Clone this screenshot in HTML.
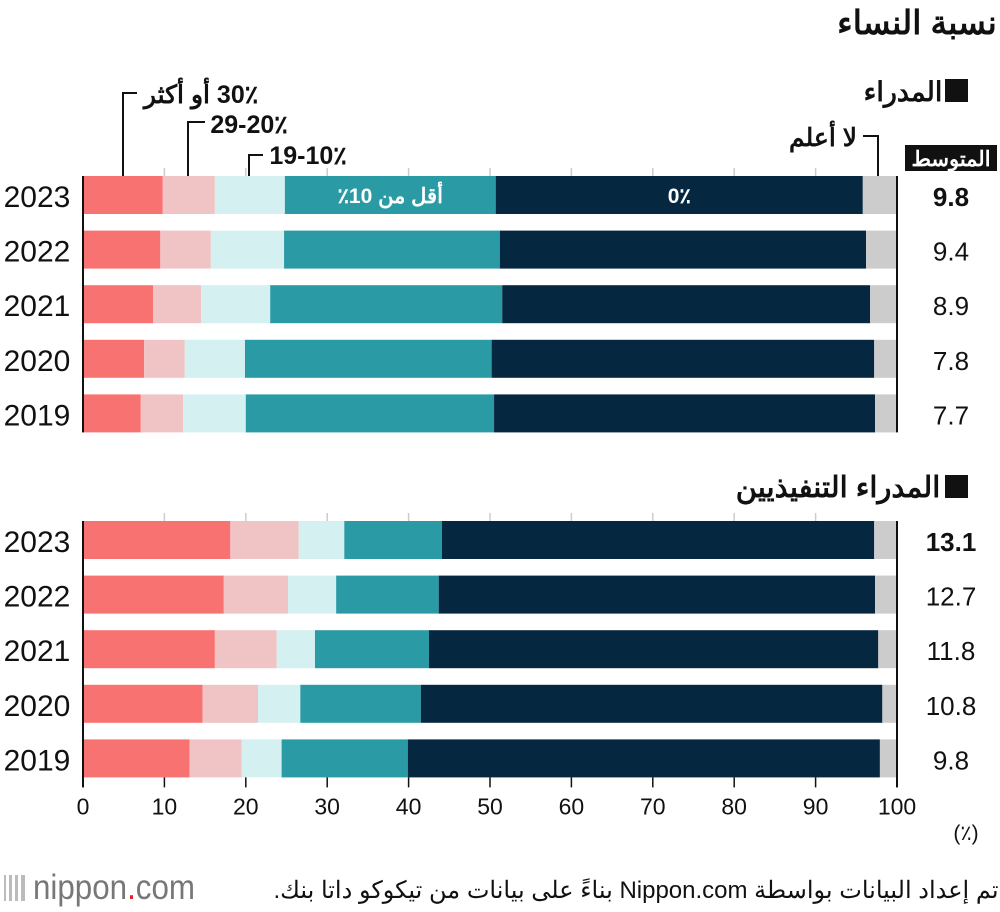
<!DOCTYPE html>
<html><head><meta charset="utf-8">
<style>
html,body{margin:0;padding:0;background:#fff;}
svg{display:block;font-family:"Liberation Sans","Noto Sans CJK SC",sans-serif;}
</style></head>
<body>
<svg id="chart" width="1000" height="912" viewBox="0 0 1000 912" xmlns="http://www.w3.org/2000/svg">
<text x="917" y="34" text-anchor="middle" direction="rtl" font-size="33" font-weight="bold" fill="#111">نسبة النساء</text>
<rect x="945" y="79" width="23" height="23" fill="#111"/>
<text x="903" y="101" text-anchor="middle" direction="rtl" font-size="27" font-weight="bold" fill="#111">المدراء</text>
<rect x="945" y="475" width="23" height="23" fill="#111"/>
<text x="838" y="497" text-anchor="middle" direction="rtl" font-size="29" font-weight="bold" fill="#111">المدراء التنفيذيين</text>

<g fill="none" stroke="#111" stroke-width="2">
<polyline points="123,176 123,93 137,93"/>
<polyline points="188,176 188,122 205,122"/>
<polyline points="249,176 249,155 263,155"/>
<polyline points="878,176 878,136 863,136"/>
</g>
<text x="201" y="103" text-anchor="middle" direction="rtl" font-size="25" font-weight="bold" fill="#111">30٪ أو أكثر</text>
<text x="249" y="133" text-anchor="middle" direction="rtl" font-size="25" font-weight="bold" fill="#111">29-20٪</text>
<text x="308" y="164" text-anchor="middle" direction="rtl" font-size="25" font-weight="bold" fill="#111">19-10٪</text>
<text x="823" y="146" text-anchor="middle" direction="rtl" font-size="25" font-weight="bold" fill="#111">لا أعلم</text>
<rect x="905" y="145" width="92" height="26" fill="#111"/>
<text x="951" y="166" text-anchor="middle" direction="rtl" font-size="21" font-weight="bold" fill="#fff">المتوسط</text>

<g id="bars"></g>
<g id="axis"></g>
<text x="966" y="840" text-anchor="middle" font-size="21" fill="#111">(٪)</text>
<g>
<g fill="#bbb"><rect x="4" y="875" width="2" height="26"/><rect x="9" y="875" width="3" height="26"/><rect x="15" y="875" width="3" height="26"/><rect x="21" y="875" width="4" height="26"/></g>
<text x="33" y="899" font-size="35" fill="#777" textLength="162" lengthAdjust="spacingAndGlyphs">nippon<tspan fill="#e0202a">.</tspan>com</text>
</g>
<text x="636" y="898" text-anchor="middle" direction="rtl" font-size="24" fill="#111">تم إعداد البيانات بواسطة Nippon.com بناءً على بيانات من تيكوكو داتا بنك.</text>
</svg>
<script>
const years = ["2023","2022","2021","2020","2019"];
const categories = ["30٪ أو أكثر","20-29٪","10-19٪","أقل من 10٪","0٪","لا أعلم"];
// managers segment shares (percent)
const managers30 = [9.8, 9.5, 8.6, 7.5, 7.1];
const managers20 = [6.4, 6.2, 5.9, 5.0, 5.2];
const managers10 = [8.6, 9.0, 8.5, 7.4, 7.7];
const managersLt10 = [25.9, 26.5, 28.5, 30.3, 30.5];
const managersZero = [45.1, 45.0, 45.2, 47.0, 46.8];
const managersAvg = ["9.8","9.4","8.9","7.8","7.7"];
// executives
const exec30 = [18.1, 17.3, 16.2, 14.7, 13.1];
const exec20 = [8.4, 7.9, 7.6, 6.8, 6.4];
const exec10 = [5.6, 5.9, 4.7, 5.2, 4.9];
const execLt10 = [12.0, 12.6, 14.0, 14.8, 15.5];
const execZero = [53.1, 53.6, 55.2, 56.7, 58.0];
const execAvg = ["13.1","12.7","11.8","10.8","9.8"];
const xTicks = [0,10,20,30,40,50,60,70,80,90,100];

const NS = "http://www.w3.org/2000/svg";
const X0 = 83, X1 = 897;
const xs = v => X0 + (X1 - X0) * v / 100;
const colors = ["#f97272","#f0c4c4","#d4f0f0","#2a9aa5","#062740","#cccccc"];
const bars = document.getElementById("bars");
const axis = document.getElementById("axis");
function mk(tag, attrs){const e=document.createElementNS(NS,tag);for(const k in attrs)e.setAttribute(k,attrs[k]);return e;}

function panel(series, avgs, top, prefix){
  const step = 54.6, h = 38;
  for (let i=1;i<10;i++){
    const g = mk("line",{x1:xs(xTicks[i]),x2:xs(xTicks[i]),y1:top-8,y2:top,stroke:"#ccc","stroke-width":1.5});
    
    
    bars.appendChild(g);
  }
  years.forEach((yr, i) => {
    const y = top + i*step;
    let acc = 0;
    const vals = series.map(s => s[i]);
    vals.push(100 - vals.reduce((a,b)=>a+b,0));
    vals.forEach((v, j) => {
      const r = mk("rect",{x:xs(acc),y:y,width:xs(acc+v)-xs(acc),height:h,fill:colors[j]});
      
      
      bars.appendChild(r);
      if (i===0 && prefix==="managers" && (j===3||j===4)){
        const t = mk("text",{x:(xs(acc)+xs(acc+v))/2,y:y+27,"text-anchor":"middle",direction:"rtl","font-size":21,"font-weight":"bold",fill:"#fff"});
        t.textContent = categories[j];
        
        
        bars.appendChild(t);
      }
      acc += v;
    });
    const yl = mk("text",{x:37,y:y+31,"text-anchor":"middle","font-size":30,fill:"#111"});
    yl.textContent = yr;
    
    
    bars.appendChild(yl);
    const av = mk("text",{x:951,y:y+30,"text-anchor":"middle","font-size":26,fill:"#111","font-weight":i===0?"bold":"normal"});
    av.textContent = avgs[i];
    
    
    bars.appendChild(av);
  });
  const bottom = top + 4*step + h;
  [X0, X1].forEach((x,k) => {
    const l = mk("line",{x1:x,x2:x,y1:top,y2:bottom + (prefix==="executives"?10:0),stroke:"#111","stroke-width":2});
    
    
    bars.appendChild(l);
  });
  return bottom;
}
panel([managers30,managers20,managers10,managersLt10,managersZero], managersAvg, 176, "managers");
const bot = panel([exec30,exec20,exec10,execLt10,execZero], execAvg, 521, "executives");
xTicks.forEach(v => {
  const t = mk("line",{x1:xs(v),x2:xs(v),y1:bot,y2:bot+10,stroke:"#111","stroke-width":1.5});
  
  
  axis.appendChild(t);
  const l = mk("text",{x:xs(v),y:bot+37,"text-anchor":"middle","font-size":23,fill:"#111"});
  l.textContent = v;
  
  
  axis.appendChild(l);
});
</script>
</body></html>
